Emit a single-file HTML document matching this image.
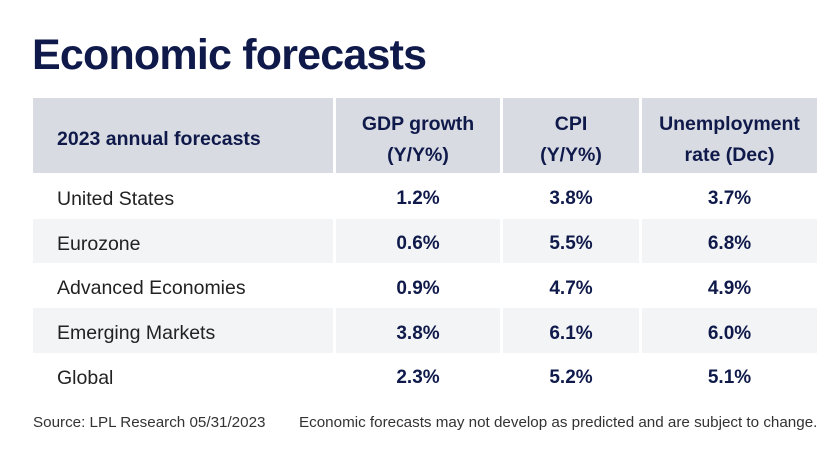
<!DOCTYPE html>
<html><head><meta charset="utf-8"><style>
body{margin:0;width:833px;height:464px;background:#fff;font-family:"Liberation Sans",sans-serif;position:relative;overflow:hidden;color:#0f1a4b}
.t{position:absolute;left:32px;top:31px;font-size:43px;font-weight:bold;letter-spacing:-0.8px;color:#0f1a4b}
.c{position:absolute;display:flex;align-items:center;justify-content:center;text-align:center;box-sizing:border-box}
.h{background:#d9dbe2;font-weight:bold;font-size:19.5px;line-height:31px;top:98px;height:75px;padding-top:8px}
.l{justify-content:flex-start;padding-left:24px;color:#222;font-size:19.5px}
.v{font-weight:bold;font-size:19px}
.r{padding-top:6px}
.g{background:#f3f4f6}
.f{position:absolute;top:414px;font-size:15.2px;color:#333}
</style></head><body>
<div class="t">Economic forecasts</div>
<div class="c h" style="left:33px;width:300px;justify-content:flex-start;padding-left:24px">2023 annual forecasts</div>
<div class="c h" style="left:336px;width:164px">GDP growth<br>(Y/Y%)</div>
<div class="c h" style="left:503px;width:136px">CPI<br>(Y/Y%)</div>
<div class="c h" style="left:642px;width:175px">Unemployment<br>rate (Dec)</div>
<div id="rows"></div>
<div class="f" style="left:33px">Source: LPL Research 05/31/2023</div>
<div class="f" style="left:299px">Economic forecasts may not develop as predicted and are subject to change.</div>
<script>
const regions=["United States","Eurozone","Advanced Economies","Emerging Markets","Global"];
const gdp=["1.2%","0.6%","0.9%","3.8%","2.3%"];
const cpi=["3.8%","5.5%","4.7%","6.1%","5.2%"];
const unemp=["3.7%","6.8%","4.9%","6.0%","5.1%"];
const cols=[[33,300],[336,164],[503,136],[642,175]];
const root=document.getElementById('rows');
regions.forEach((r,i)=>{
  const top=174+i*44.8;
  const vals=[r,gdp[i],cpi[i],unemp[i]];
  vals.forEach((v,j)=>{
    const d=document.createElement('div');
    d.className='c r '+(j===0?'l':'v')+(i%2?' g':'');
    d.style.left=cols[j][0]+'px';d.style.width=cols[j][1]+'px';
    d.style.top=top+'px';d.style.height='44.5px';
    d.textContent=v;
    
    
    root.appendChild(d);
  });
});
</script>
</body></html>
